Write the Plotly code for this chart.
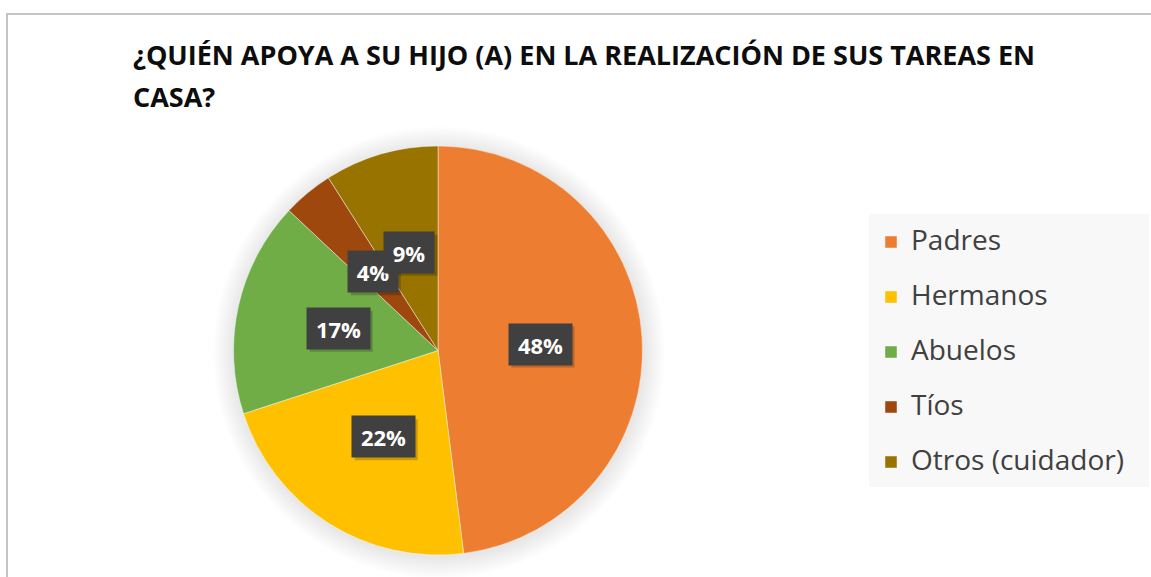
import math
import plotly.graph_objects as go

# ---- data ----
categories = ["Padres", "Hermanos", "Abuelos", "Tíos", "Otros (cuidador)"]
values = [48, 22, 17, 4, 9]
colors = ["#ED7D31", "#FFC000", "#70AD47", "#9E480E", "#997300"]
title_lines = ["¿QUIÉN APOYA A SU HIJO (A) EN LA REALIZACIÓN DE SUS TAREAS EN", "CASA?"]

# ---- layout geometry (pixels) ----
W, H = 1151, 577
CX, CY, R = 438, 350.5, 204.5


def px(x):
    return x / W


def py(y):
    return 1 - y / H


fig = go.Figure()
fig.add_trace(go.Pie(
    labels=[f'<span style="font-size:28px;baseline-shift:8px">{c}</span>' for c in categories],
    values=values, sort=False, direction="clockwise", rotation=0,
    marker=dict(colors=colors, line=dict(color="rgba(255,255,255,0.55)", width=0.8)),
    textinfo="none", hoverinfo="label+percent",
    domain=dict(x=[px(CX - R), px(CX + R)], y=[py(CY + R), py(CY - R)]),
    showlegend=True,
))

shapes = []
# soft shadow around the pie
for i in range(12):
    rr = R + 1.5 + i * 1.8
    shapes.append(dict(type="circle", xref="paper", yref="paper", layer="below",
                       x0=px(CX + 1 - rr), x1=px(CX + 1 + rr), y0=py(CY + 2 + rr), y1=py(CY + 2 - rr),
                       fillcolor="rgba(0,0,0,0.008)", line=dict(width=0)))
# chart border
shapes.append(dict(type="rect", xref="paper", yref="paper", layer="below",
                   x0=px(7), x1=px(W + 10), y0=py(H + 10), y1=py(14),
                   fillcolor="rgba(0,0,0,0)", line=dict(color="#C4C4C4", width=2)))
# legend background
shapes.append(dict(type="rect", xref="paper", yref="paper", layer="below",
                   x0=px(869), x1=px(1149), y0=py(487), y1=py(214),
                   fillcolor="#F8F8F8", line=dict(width=0)))

annotations = []
# title lines
for i, line in enumerate(title_lines):
    annotations.append(dict(text="<b>" + line + "</b>", xref="paper", yref="paper",
                            x=px(131), y=py(55 + 41 * i), xanchor="left", yanchor="middle",
                            showarrow=False, font=dict(family="Open Sans", size=27, color="#0D0D0D")))

# data labels at half radius along slice mid-angle
total = sum(values)
cum = 0
for v in values:
    mid = (cum + v / 2) / total * 2 * math.pi
    cum += v
    lx = CX + 0.5 * R * math.sin(mid)
    ly = CY - 0.5 * R * math.cos(mid)
    txt = f"{round(v / total * 100)}%"
    bw, bh = 13 * len(txt) + 24, 41
    # drop shadow of the label box
    shapes.append(dict(type="rect", xref="paper", yref="paper", layer="above",
                       x0=px(lx - bw / 2 + 3), x1=px(lx + bw / 2 + 3),
                       y0=py(ly + bh / 2 + 3), y1=py(ly - bh / 2 + 3),
                       fillcolor="rgba(0,0,0,0.2)", line=dict(width=0)))
    annotations.append(dict(text="<b>" + txt + "</b>", xref="paper", yref="paper",
                            x=px(lx), y=py(ly), xanchor="center", yanchor="middle",
                            showarrow=False, width=bw - 8, height=bh - 8, borderpad=4,
                            bgcolor="#404040",
                            font=dict(family="Open Sans", size=22, color="#FFFFFF")))

fig.update_layout(
    width=W, height=H, margin=dict(l=0, r=0, t=0, b=0),
    paper_bgcolor="#FFFFFF", plot_bgcolor="#FFFFFF",
    shapes=shapes, annotations=annotations,
    legend=dict(x=px(871), y=py(209.5), xanchor="left", yanchor="top",
                bgcolor="rgba(0,0,0,0)", font=dict(family="Open Sans", size=40, color="#404040"),
                traceorder="normal"),
)

fig.write_html("out.html", config={"displayModeBar": False},
               post_script="document.body.style.margin='0';")
